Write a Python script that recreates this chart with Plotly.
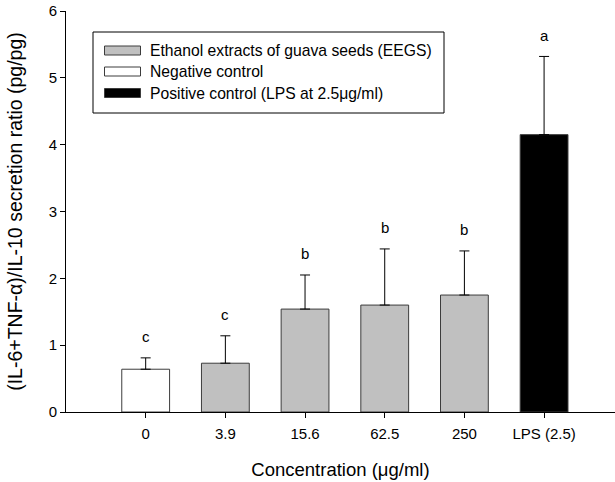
import plotly.graph_objects as go

# ---- data ----
categories = ["0", "3.9", "15.6", "62.5", "250", "LPS (2.5)"]
means = [0.64, 0.73, 1.54, 1.60, 1.75, 4.15]
errors = [0.17, 0.41, 0.51, 0.84, 0.66, 1.17]
letters = ["c", "c", "b", "b", "b", "a"]
groups = ["neg", "eegs", "eegs", "eegs", "eegs", "pos"]
legend_labels = ["Ethanol extracts of guava seeds (EEGS)",
                 "Negative control",
                 "Positive control (LPS at 2.5\u03bcg/ml)"]
legend_groups = ["eegs", "neg", "pos"]

# ---- style ----
FONT = "Liberation Sans, Arial, sans-serif"
fill_colors = {"neg": "#ffffff", "eegs": "#c0c0c0", "pos": "#000000"}
edge_color = "#3c3c3c"

W, H = 615, 482
ml, mr, mt, mb = 66, 0, 11, 70
pw, ph = W - ml - mr, H - mt - mb

xpos = list(range(len(categories)))

fig = go.Figure()
fig.add_trace(go.Bar(
    x=xpos, y=means,
    width=0.6,
    marker=dict(color=[fill_colors[g] for g in groups],
                line=dict(color=edge_color, width=1)),
    error_y=dict(type="data", symmetric=False, array=errors,
                 arrayminus=[0] * len(errors),
                 color="#000000", thickness=1, width=5),
    showlegend=False,
    hoverinfo="skip",
))

# significance letters
for xi, m, e, L in zip(xpos, means, errors, letters):
    fig.add_annotation(x=xi, y=m + e, text=L, showarrow=False,
                       xref="x", yref="y", yanchor="middle", yshift=21,
                       font=dict(family=FONT, size=15, color="black"))

# manual legend (box + swatches + text), in pixel -> paper coords
def px2x(px):
    return (px - ml) / pw

def py2y(py):
    return (H - mb - py) / ph

fig.add_shape(type="rect", xref="paper", yref="paper",
              x0=px2x(93), x1=px2x(444), y0=py2y(113), y1=py2y(32),
              line=dict(color="black", width=1), fillcolor="white", layer="above")
row_centers = [50.5, 71.5, 93]
for rc, g, lab in zip(row_centers, legend_groups, legend_labels):
    fig.add_shape(type="rect", xref="paper", yref="paper",
                  x0=px2x(104.5), x1=px2x(140.5),
                  y0=py2y(rc + 4.5), y1=py2y(rc - 4.5),
                  line=dict(color=edge_color, width=1),
                  fillcolor=fill_colors[g], layer="above")
    fig.add_annotation(xref="paper", yref="paper", x=px2x(148), y=py2y(rc),
                       xanchor="left", yanchor="middle", text=lab, showarrow=False,
                       font=dict(family=FONT, size=15.7, color="black"))

fig.update_layout(
    width=W, height=H,
    margin=dict(l=ml, r=mr, t=mt, b=mb, pad=0),
    paper_bgcolor="white", plot_bgcolor="white",
    font=dict(family=FONT, size=15, color="black"),
    bargap=0.4,
    showlegend=False,
)
fig.update_xaxes(
    range=[-1, 5.89],
    tickmode="array", tickvals=xpos, ticktext=categories,
    ticks="outside", ticklen=5, tickwidth=1, tickcolor="black",
    showline=True, linecolor="black", linewidth=1,
    showgrid=False, zeroline=False,
    tickfont=dict(family=FONT, size=15),
    ticklabelstandoff=3,
    title=dict(text="Concentration (\u03bcg/ml)", font=dict(family=FONT, size=18.5), standoff=22),
)
fig.update_yaxes(
    range=[0, 6], tickvals=[0, 1, 2, 3, 4, 5, 6],
    ticks="outside", ticklen=5, tickwidth=1, tickcolor="black",
    showline=True, linecolor="black", linewidth=1,
    showgrid=False, zeroline=False,
    tickfont=dict(family=FONT, size=15),
    title=dict(text="(IL-6+TNF-\u03b1)/IL-10 secretion ratio (pg/pg)",
               font=dict(family=FONT, size=19.5), standoff=20),
)

fig.write_html("out.html")
